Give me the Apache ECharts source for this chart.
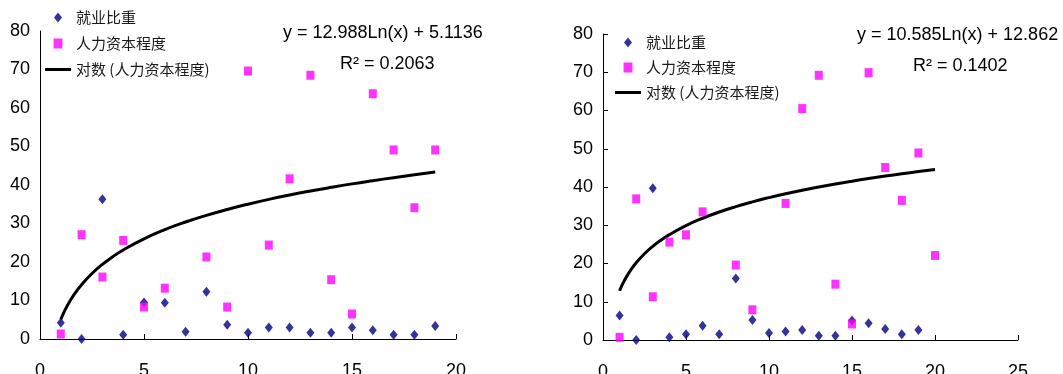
<!DOCTYPE html>
<html>
<head>
<meta charset="utf-8">
<script src="https://cdn.jsdelivr.net/npm/echarts@6/dist/echarts.min.js"></script>
<style>
html,body{margin:0;padding:0;background:#fff;overflow:hidden;}
#c{width:1063px;height:374px;}
</style>
</head>
<body>
<div id="c"></div>
<script>
// ---- Data ----
var seriesNames = ['就业比重', '人力资本程度', '对数 (人力资本程度)'];

// Left chart
var leftX = [1,2,3,4,5,6,7,8,9,10,11,12,13,14,15,16,17,18,19];
var leftEmployment = [4.2,0,36.3,1.1,9.5,9.4,1.9,12.3,3.7,1.6,3.0,3.0,1.6,1.6,3.0,2.3,1.1,1.1,3.4];
var leftHumanCapital = [1.3,27.1,16.1,25.6,8.3,13.2,null,21.3,8.3,69.6,24.4,41.6,68.5,15.4,6.5,63.7,49.1,34.1,49.1];
var leftTrendX = [1,1.1,1.25,1.5,1.75,2,2.5,3,3.5,4,5,6,7,8,9,10,11,12,13,14,15,16,17,18,19];
var leftTrendY = [5.11,6.35,8.01,10.38,12.38,14.12,17.01,19.38,21.38,23.12,26.02,28.39,30.39,32.12,33.65,35.02,36.26,37.39,38.43,39.39,40.29,41.12,41.91,42.65,43.36];
var leftEquation = 'y = 12.988Ln(x) + 5.1136';
var leftR2 = 'R² = 0.2063';

// Right chart
var rightX = [1,2,3,4,5,6,7,8,9,10,11,12,13,14,15,16,17,18,19,20];
var rightEmployment = [6.4,0,39.7,0.7,1.5,3.7,1.5,16.1,5.2,1.8,2.2,2.6,1.1,1.1,5.1,4.4,2.9,1.5,2.6,null];
var rightHumanCapital = [0.7,36.9,11.3,25.6,27.5,33.5,null,19.6,7.9,null,35.7,60.5,69.2,14.6,4.2,69.9,45.1,36.5,48.9,22.1];
var rightTrendX = [1,1.1,1.25,1.5,1.75,2,2.5,3,3.5,4,5,6,7,8,9,10,11,12,13,14,15,16,17,18,19,20];
var rightTrendY = [12.86,13.87,15.22,17.15,18.79,20.20,22.56,24.49,26.12,27.54,29.90,31.83,33.46,34.87,36.12,37.23,38.24,39.16,40.01,40.80,41.53,42.21,42.85,43.46,44.03,44.57];
var rightEquation = 'y = 10.585Ln(x) + 12.862';
var rightR2 = 'R² = 0.1402';

// Axis ticks
var yMin = 0, yMax = 80, yInterval = 10;
var leftXMax = 20, rightXMax = 25, xInterval = 5;

function pairs(xs, ys) {
  var out = [];
  for (var i = 0; i < xs.length; i++) {
    if (ys[i] !== null && ys[i] !== undefined) out.push([xs[i], ys[i]]);
  }
  return out;
}

var NAVY = '#000080', MAGENTA = '#FF00FF';
var axisFont = {fontFamily: 'Liberation Sans, Arial, sans-serif', fontSize: 18, color: '#000'};
var legendFont = {fontFamily: 'Noto Sans CJK SC, sans-serif', fontSize: 15, color: '#1a1a1a'};
var eqFont = '18px "Liberation Sans", Arial, sans-serif';

function xAxisCfg(gridIndex, max) {
  return {
    type: 'value', gridIndex: gridIndex, min: 0, max: max, interval: xInterval,
    axisLine: {show: true, onZero: false, lineStyle: {color: '#000', width: 1}},
    axisTick: {show: true, inside: true, length: 5, lineStyle: {color: '#000'}},
    splitLine: {show: false},
    axisLabel: Object.assign({margin: 23}, axisFont)
  };
}
function yAxisCfg(gridIndex, ticks) {
  return {
    type: 'value', gridIndex: gridIndex, min: yMin, max: yMax, interval: yInterval,
    axisLine: {show: true, lineStyle: {color: '#000', width: 1}},
    axisTick: {show: ticks, inside: true, length: 5, lineStyle: {color: '#000'}},
    splitLine: {show: false},
    axisLabel: Object.assign({margin: 10}, axisFont)
  };
}
function legendCfg(left, top, gap) {
  return {
    orient: 'vertical', left: left, top: top, padding: 0,
    itemWidth: 26, itemHeight: 10, itemGap: gap,
    symbolKeepAspect: true,
    textStyle: legendFont,
    selectedMode: false,
    data: [
      {name: seriesNames[0], icon: 'path://M4,0 L8,5 L4,10 L0,5 Z'},
      {name: seriesNames[1], icon: 'path://M0,0 L8,0 L8,9 L0,9 Z'},
      {name: seriesNames[2], icon: 'path://M0,0 L26,0 L26,3 L0,3 Z'}
    ]
  };
}

var chart = echarts.init(document.getElementById('c'), null, {renderer: 'canvas'});
chart.setOption({
  animation: false,
  backgroundColor: '#fff',
  grid: [
    {left: 40, top: 31, width: 416, height: 308, outerBoundsMode: 'none', containLabel: false},
    {left: 603, top: 34, width: 415, height: 306, outerBoundsMode: 'none', containLabel: false}
  ],
  xAxis: [xAxisCfg(0, leftXMax), xAxisCfg(1, rightXMax)],
  yAxis: [yAxisCfg(0, false), yAxisCfg(1, true)],
  legend: [legendCfg(45, 10, 11), legendCfg(615, 35, 10)],
  graphic: [
    {type: 'text', left: 283, top: 24, style: {text: leftEquation, font: eqFont, fill: '#000'}},
    {type: 'text', left: 340, top: 55, style: {text: leftR2, font: eqFont, fill: '#000'}},
    {type: 'text', left: 857, top: 26, style: {text: rightEquation, font: eqFont, fill: '#000'}},
    {type: 'text', left: 913, top: 57, style: {text: rightR2, font: eqFont, fill: '#000'}}
  ],
  series: [
    {name: seriesNames[2], type: 'line', xAxisIndex: 0, yAxisIndex: 0, showSymbol: false, symbol: 'none',
     smooth: true, data: pairs(leftTrendX, leftTrendY), lineStyle: {color: '#000', width: 3}, itemStyle: {color: '#000'}, z: 2},
    {name: seriesNames[0], type: 'scatter', xAxisIndex: 0, yAxisIndex: 0, symbol: 'diamond', symbolSize: [8, 10],
     data: pairs(leftX, leftEmployment), itemStyle: {color: NAVY}, z: 3},
    {name: seriesNames[1], type: 'scatter', xAxisIndex: 0, yAxisIndex: 0, symbol: 'rect', symbolSize: [8, 9],
     data: pairs(leftX, leftHumanCapital), itemStyle: {color: MAGENTA}, z: 4},

    {name: seriesNames[2], type: 'line', xAxisIndex: 1, yAxisIndex: 1, showSymbol: false, symbol: 'none',
     smooth: true, data: pairs(rightTrendX, rightTrendY), lineStyle: {color: '#000', width: 3}, itemStyle: {color: '#000'}, z: 2},
    {name: seriesNames[0], type: 'scatter', xAxisIndex: 1, yAxisIndex: 1, symbol: 'diamond', symbolSize: [8, 10],
     data: pairs(rightX, rightEmployment), itemStyle: {color: NAVY}, z: 3},
    {name: seriesNames[1], type: 'scatter', xAxisIndex: 1, yAxisIndex: 1, symbol: 'rect', symbolSize: [8, 9],
     data: pairs(rightX, rightHumanCapital), itemStyle: {color: MAGENTA}, z: 4}
  ]
});
</script>
</body>
</html>
